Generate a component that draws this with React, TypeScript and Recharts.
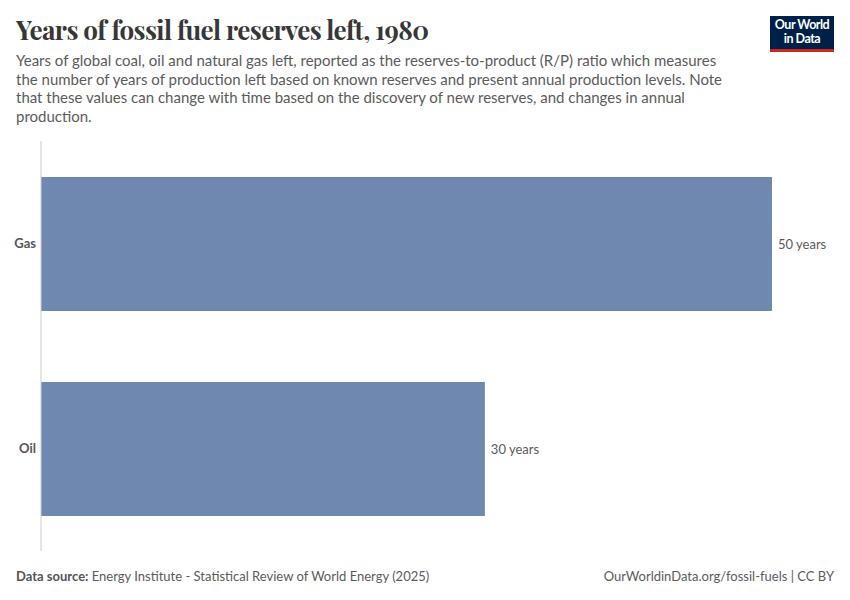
import { Bar, BarChart, LabelList, XAxis, YAxis } from "recharts";

const fuels = ["Gas", "Oil"];
const yearsLeft = [49.9, 30.3];

const data = fuels.map((fuel, i) => ({ fuel, years: yearsLeft[i] }));

const FONT = "Lato, 'Noto Sans', sans-serif";

export default function App() {
  return (
    <div
      style={{
        position: "absolute",
        top: 0,
        left: 0,
        width: 850,
        height: 600,
        background: "#fff",
        fontFamily: FONT,
        overflow: "hidden",
      }}
    >
      <div
        style={{
          position: "absolute",
          left: 16,
          top: 12,
          fontFamily: "'Playfair Display', 'Liberation Serif', serif",
          fontSize: 26,
          fontWeight: 700,
          color: "#373737",
          letterSpacing: -0.6,
        }}
      >
        Years of fossil fuel reserves left, 1980
      </div>
      <div
        style={{
          position: "absolute",
          left: 16,
          top: 51,
          width: 720,
          fontSize: 15,
          lineHeight: "18.5px",
          color: "#5b5b5b",
        }}
      >
        Years of global coal, oil and natural gas left, reported as the reserves-to-product (R/P) ratio which
        measures the number of years of production left based on known reserves and present annual production
        levels. Note that these values can change with time based on the discovery of new reserves, and changes in
        annual production.
      </div>
      <div
        style={{
          position: "absolute",
          left: 770,
          top: 16,
          width: 64,
          height: 36,
          background: "#002147",
          borderBottom: "3px solid #ce261e",
          boxSizing: "border-box",
          color: "#fff",
          fontSize: 12.5,
          lineHeight: "14px",
          textAlign: "center",
          paddingTop: 2,
          fontWeight: 700,
          letterSpacing: -0.5,
        }}
      >
        <div>Our World</div>
        <div>in Data</div>
      </div>
      <div style={{ position: "absolute", left: 0, top: 0 }}>
        <BarChart
          width={850}
          height={600}
          data={data}
          layout="vertical"
          margin={{ top: 141, right: 78, bottom: 49, left: 0 }}
          barSize={134}
        >
          <XAxis type="number" domain={[0, 49.9]} hide />
          <YAxis
            type="category"
            dataKey="fuel"
            width={41}
            tickLine={false}
            tickSize={0}
            axisLine={{ stroke: "#cccccc" }}
            tick={{ fontSize: 13, fill: "#555", fontWeight: 700, fontFamily: FONT }}
            tickMargin={5}
          />
          <Bar dataKey="years" fill="#6f88b0" isAnimationActive={false}>
            <LabelList
              dataKey="years"
              position="right"
              offset={6}
              formatter={(v: number) => `${Math.round(v)} years`}
              style={{ fontSize: 13, fill: "#5b5b5b", fontFamily: FONT }}
            />
          </Bar>
        </BarChart>
      </div>
      <div
        style={{
          position: "absolute",
          left: 16,
          top: 568,
          fontSize: 13,
          color: "#5b5b5b",
        }}
      >
        <span style={{ fontWeight: 700, color: "#555" }}>Data source:</span> Energy Institute - Statistical Review of
        World Energy (2025)
      </div>
      <div
        style={{
          position: "absolute",
          right: 16,
          top: 568,
          fontSize: 13,
          color: "#5b5b5b",
        }}
      >
        OurWorldinData.org/fossil-fuels | CC BY
      </div>
    </div>
  );
}
